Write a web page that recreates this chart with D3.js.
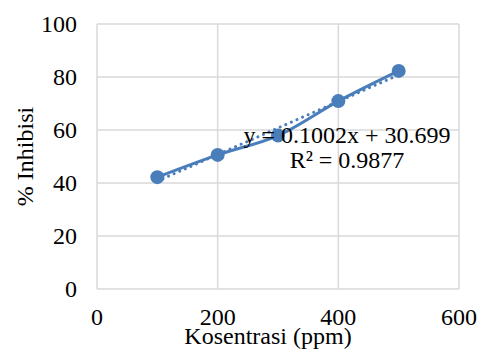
<!DOCTYPE html>
<html>
<head>
<meta charset="utf-8">
<script src="https://cdn.jsdelivr.net/npm/d3@7"></script>
<style>
  body { margin: 0; background: #fff; }
  svg { display: block; font-family: "Times New Roman", "Liberation Serif", serif; }
</style>
</head>
<body>
<svg id="chart" width="480" height="352"></svg>
<script>
const konsentrasi = [100, 200, 300, 400, 500];
const inhibisi = [42.2, 50.6, 57.9, 70.9, 82.3];
const xTicks = [0, 200, 400, 600];
const yTicks = [0, 20, 40, 60, 80, 100];
const slope = 0.1002, intercept = 30.699;

const color = "#4a7ebb";
const fs = "24px";
const svg = d3.select("#chart");

const x = d3.scaleLinear().domain([0, 600]).range([97, 459]);
const y = d3.scaleLinear().domain([0, 100]).range([289, 24]);

// grid
svg.append("g")
  .selectAll("line")
  .data(yTicks)
  .join("line")
  .attr("x1", x(0)).attr("x2", x(600))
  .attr("y1", d => y(d)).attr("y2", d => y(d))
  .attr("stroke", "#d9d9d9").attr("stroke-width", 1.5);

svg.append("g")
  .selectAll("line")
  .data(xTicks)
  .join("line")
  .attr("x1", d => x(d)).attr("x2", d => x(d))
  .attr("y1", y(0)).attr("y2", y(100))
  .attr("stroke", "#d9d9d9").attr("stroke-width", 1.5);

// tick labels
svg.append("g")
  .selectAll("text")
  .data(yTicks)
  .join("text")
  .attr("x", 77)
  .attr("y", d => y(d) + 8)
  .attr("text-anchor", "end")
  .style("font-size", fs)
  .text(d => d);

svg.append("g")
  .selectAll("text")
  .data(xTicks)
  .join("text")
  .attr("x", d => x(d))
  .attr("y", 325)
  .attr("text-anchor", "middle")
  .style("font-size", fs)
  .text(d => d);

// axis titles
svg.append("text")
  .attr("x", 268).attr("y", 344)
  .attr("text-anchor", "middle")
  .style("font-size", fs)
  .text("Kosentrasi (ppm)");

svg.append("text")
  .attr("transform", `translate(33,${(y(0) + y(100)) / 2}) rotate(-90)`)
  .attr("text-anchor", "middle")
  .style("font-size", fs)
  .text("% Inhibisi");

const pts = konsentrasi.map((k, i) => [k, inhibisi[i]]);

// trendline (dotted)
svg.append("line")
  .attr("x1", x(100)).attr("y1", y(slope * 100 + intercept))
  .attr("x2", x(500)).attr("y2", y(slope * 500 + intercept))
  .attr("stroke", color).attr("stroke-width", 3)
  .attr("stroke-linecap", "round")
  .attr("stroke-dasharray", "0.1 6");

// smoothed series line
const line = d3.line()
  .x(d => x(d[0])).y(d => y(d[1]))
  .curve(d3.curveCatmullRom.alpha(0.5));

svg.append("path")
  .datum(pts)
  .attr("d", line)
  .attr("fill", "none")
  .attr("stroke", color)
  .attr("stroke-width", 3);

svg.append("g")
  .selectAll("circle")
  .data(pts)
  .join("circle")
  .attr("cx", d => x(d[0])).attr("cy", d => y(d[1]))
  .attr("r", 7)
  .attr("fill", color);

// equation label
const eq = svg.append("text")
  .attr("text-anchor", "middle")
  .style("font-size", fs)
  .attr("fill", "#000");
eq.append("tspan").attr("x", 347).attr("y", 143).text("y = 0.1002x + 30.699");
eq.append("tspan").attr("x", 347).attr("y", 168).text("R² = 0.9877");
</script>
</body>
</html>
